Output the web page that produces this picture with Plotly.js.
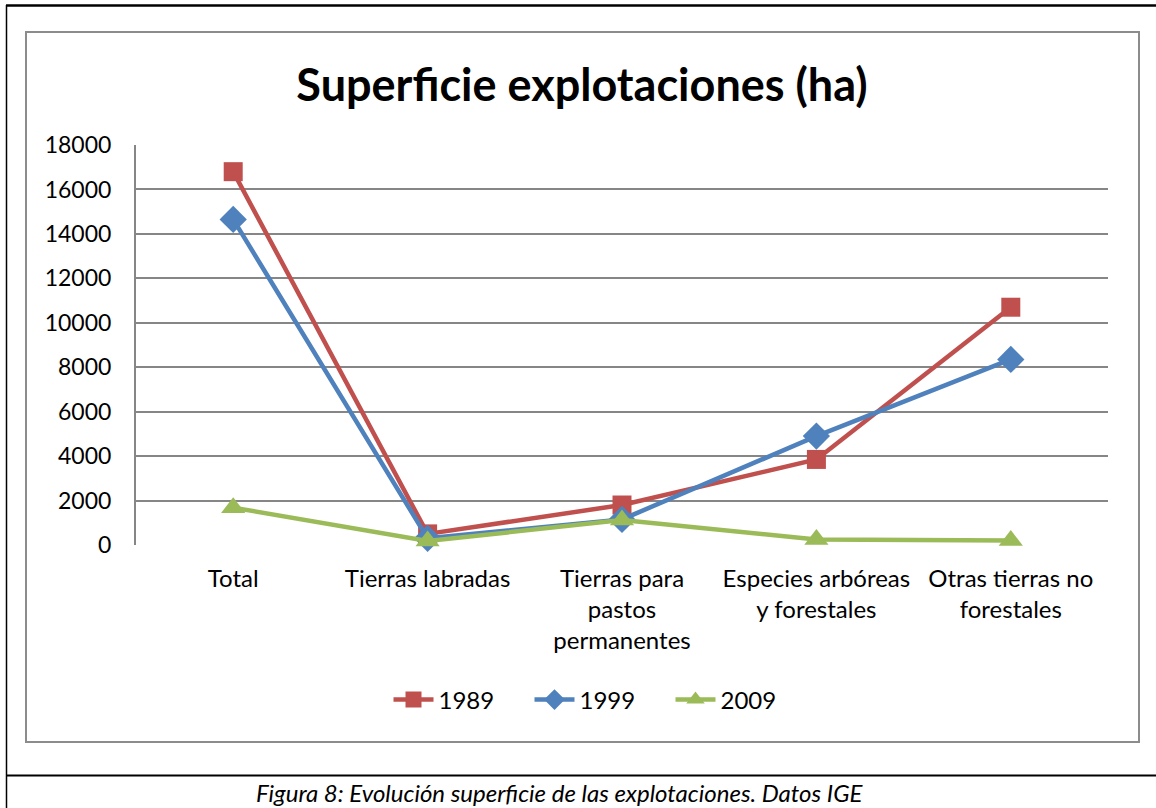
<!DOCTYPE html>
<html>
<head>
<meta charset="utf-8">
<script src="https://cdn.plot.ly/plotly-3.0.1.min.js"></script>
<style>
  html, body { margin: 0; padding: 0; background: #ffffff; }
  #chart { width: 1156px; height: 808px; }
</style>
</head>
<body>
<div id="chart"></div>
<script>
const categories = [
  "Total",
  "Tierras labradas",
  "Tierras para<br>pastos<br>permanentes",
  "Especies arbóreas<br>y forestales",
  "Otras tierras no<br>forestales"
];
const seriesNames = ["1989", "1999", "2009"];
const values1989 = [16800, 500, 1800, 3850, 10700];
const values1999 = [14650, 300, 1150, 4900, 8350];
const values2009 = [1680, 180, 1120, 250, 200];
const yTicks = [0, 2000, 4000, 6000, 8000, 10000, 12000, 14000, 16000, 18000];

const FONT = "Lato, 'Open Sans', 'Liberation Sans', sans-serif";

const W = 1156, H = 808;
const L = 136, R = 1108, T = 145, B = 545;
const px = x => (x - L) / (R - L);
const py = y => (B - y) / (B - T);

const xIdx = categories.map((_, i) => i);

function trace(name, vals, color, symbol, size) {
  return {
    type: "scatter", mode: "lines+markers", name: name,
    x: xIdx, y: vals,
    line: { color: color, width: 4.5 },
    marker: { symbol: symbol, size: size, color: color },
    cliponaxis: false
  };
}

const data = [
  trace(seriesNames[0], values1989, "#C0504D", "square", 19),
  trace(seriesNames[1], values1999, "#4F81BD", "diamond", 21),
  trace(seriesNames[2], values2009, "#9BBB59", "triangle-up", 21)
];

const layout = {
  width: W, height: H,
  margin: { l: L, r: W - R, t: T, b: H - B, pad: 0 },
  paper_bgcolor: "#ffffff",
  plot_bgcolor: "#ffffff",
  showlegend: true,
  font: { family: FONT, size: 24, color: "#000000" },
  title: {
    text: "<b>Superficie explotaciones (ha)</b>",
    font: { family: FONT, size: 45, color: "#000000" },
    x: px(582), xref: "paper", xanchor: "center",
    y: 1 - 85 / H, yref: "container", yanchor: "middle"
  },
  xaxis: {
    tickmode: "array", tickvals: xIdx, ticktext: categories,
    range: [-0.5, 4.5],
    showgrid: false, zeroline: false, showline: false,
    ticks: "", ticklabelstandoff: 17,
    tickfont: { family: FONT, size: 24, color: "#000000" },
    fixedrange: true
  },
  yaxis: {
    range: [0, 18000],
    tickmode: "array", tickvals: yTicks, ticktext: yTicks.map(String),
    showgrid: true, gridcolor: "#868686", gridwidth: 2,
    zeroline: false,
    showline: true, linecolor: "#868686", linewidth: 2,
    ticks: "", ticklabelstandoff: 18,
    tickfont: { family: FONT, size: 23, color: "#000000" },
    fixedrange: true
  },
  legend: {
    orientation: "h",
    x: px(600), xanchor: "center",
    y: py(700), yanchor: "middle",
    font: { family: FONT, size: 24, color: "#000000" },
    itemwidth: 40,
    entrywidth: 86, entrywidthmode: "pixels",
    bgcolor: "rgba(0,0,0,0)"
  },
  shapes: [
    // inner chart frame (grey)
    { type: "rect", xref: "paper", yref: "paper",
      x0: px(26), x1: px(1139), y0: py(742), y1: py(32),
      line: { color: "#8c8c8c", width: 2 }, fillcolor: "rgba(0,0,0,0)", layer: "below" },
    // outer black border: top
    { type: "line", xref: "paper", yref: "paper",
      x0: px(6), x1: px(1160), y0: py(5.5), y1: py(5.5),
      line: { color: "#000000", width: 2.5 } },
    // left
    { type: "line", xref: "paper", yref: "paper",
      x0: px(6.5), x1: px(6.5), y0: py(5), y1: py(812),
      line: { color: "#000000", width: 1.5 } },
    // separator above caption
    { type: "line", xref: "paper", yref: "paper",
      x0: px(6), x1: px(1160), y0: py(775.5), y1: py(775.5),
      line: { color: "#000000", width: 2 } }
  ],
  annotations: [
    { xref: "paper", yref: "paper",
      x: px(560), y: py(792), xanchor: "center", yanchor: "middle",
      text: "<i>Figura 8: Evolución superficie de las explotaciones. Datos IGE</i>",
      showarrow: false,
      font: { family: FONT, size: 24, color: "#000000" } }
  ]
};

Plotly.newPlot("chart", data, layout, { displayModeBar: false, staticPlot: true });
</script>
</body>
</html>
